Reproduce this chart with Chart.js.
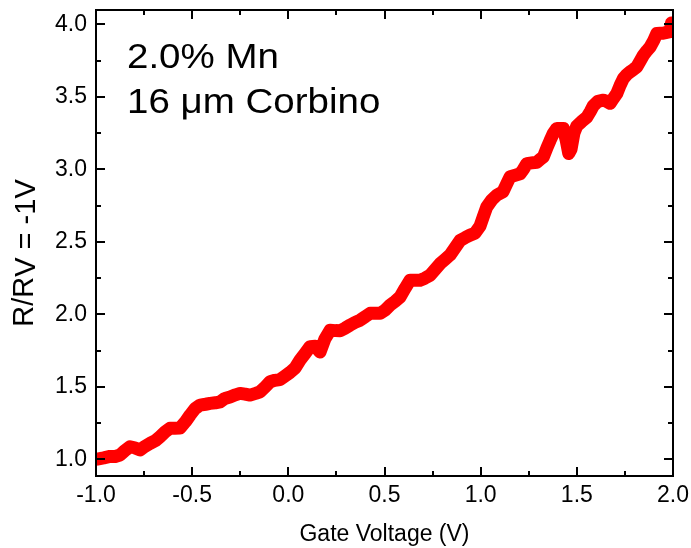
<!DOCTYPE html>
<html>
<head>
<meta charset="utf-8">
<script src="https://cdn.jsdelivr.net/npm/chart.js@4/dist/chart.umd.min.js"></script>
<style>
  html, body { margin: 0; padding: 0; background: #fff; }
  canvas { display: block; }
</style>
</head>
<body>
<canvas id="c" width="691" height="548"></canvas>
<script>
// ---- data ----
const gateVoltage = [
  -1.000, -0.960, -0.927, -0.900, -0.875, -0.850, -0.823, -0.800, -0.771, -0.745,
  -0.719, -0.690, -0.667, -0.640, -0.615, -0.590, -0.563, -0.535, -0.511, -0.485,
  -0.459, -0.430, -0.407, -0.380, -0.355, -0.330, -0.303, -0.275, -0.251, -0.225,
  -0.199, -0.170, -0.147, -0.120, -0.095, -0.070, -0.043, -0.017, 0.009, 0.035,
  0.061, 0.087, 0.113, 0.140, 0.165, 0.190, 0.217, 0.245, 0.269, 0.295,
  0.321, 0.347, 0.373, 0.400, 0.425, 0.450, 0.477, 0.503, 0.529, 0.555,
  0.581, 0.607, 0.633, 0.660, 0.685, 0.710, 0.737, 0.763, 0.789, 0.815,
  0.841, 0.867, 0.893, 0.920, 0.945, 0.970, 0.997, 1.015, 1.032, 1.058,
  1.084, 1.116, 1.135, 1.153, 1.180, 1.205, 1.222, 1.240, 1.265, 1.292,
  1.310, 1.326, 1.345, 1.361, 1.378, 1.396, 1.413, 1.430, 1.445, 1.458,
  1.470, 1.485, 1.500, 1.525, 1.552, 1.570, 1.586, 1.610, 1.638, 1.655,
  1.673, 1.690, 1.708, 1.725, 1.742, 1.760, 1.777, 1.795, 1.812, 1.830,
  1.846, 1.865, 1.881, 1.900, 1.916, 1.935, 1.950, 1.968, 1.985, 1.992, 2.000
];
const resistanceRatio = [
  1.00, 1.01, 1.02, 1.02, 1.03, 1.06, 1.087, 1.08, 1.065, 1.09,
  1.11, 1.13, 1.156, 1.19, 1.214, 1.215, 1.216, 1.26, 1.305, 1.35,
  1.374, 1.38, 1.386, 1.39, 1.397, 1.42, 1.43, 1.445, 1.455, 1.45,
  1.443, 1.455, 1.466, 1.50, 1.535, 1.545, 1.55, 1.575, 1.60, 1.63,
  1.685, 1.73, 1.777, 1.78, 1.74, 1.83, 1.89, 1.888, 1.887, 1.905,
  1.926, 1.945, 1.96, 1.985, 2.007, 2.007, 2.007, 2.03, 2.064, 2.09,
  2.12, 2.18, 2.236, 2.236, 2.236, 2.25, 2.27, 2.31, 2.35, 2.38,
  2.41, 2.46, 2.51, 2.53, 2.547, 2.56, 2.61, 2.68, 2.742, 2.79,
  2.823, 2.846, 2.90, 2.95, 2.96, 2.97, 3.00, 3.04, 3.045, 3.05,
  3.07, 3.087, 3.15, 3.20, 3.25, 3.283, 3.283, 3.283, 3.20, 3.11,
  3.14, 3.25, 3.30, 3.33, 3.36, 3.40, 3.44, 3.47, 3.478, 3.47,
  3.456, 3.49, 3.524, 3.58, 3.627, 3.655, 3.673, 3.69, 3.708, 3.75,
  3.788, 3.82, 3.845, 3.89, 3.938, 3.94, 3.94, 3.945, 3.95, 4.01, 3.99
];
const xTicks = [-1.0, -0.5, 0.0, 0.5, 1.0, 1.5, 2.0];
const yTicks = [1.0, 1.5, 2.0, 2.5, 3.0, 3.5, 4.0];
const xMinorTicks = [-0.75, -0.25, 0.25, 0.75, 1.25, 1.75];
const yMinorTicks = [1.25, 1.75, 2.25, 2.75, 3.25, 3.75];
const xTitle = 'Gate Voltage (V)';
const yTitleMain = 'R/R';
const yTitleSub = 'V = -1V';
const noteLines = ['2.0% Mn', '16 \u03BCm Corbino'];

const FONT = '"Liberation Sans", Arial, Helvetica, sans-serif';

const points = gateVoltage.map((v, i) => ({ x: v, y: resistanceRatio[i] }));

const framePlugin = {
  id: 'frameAndNotes',
  afterDatasetsDraw(chart) {
    const { ctx, chartArea: { left, right, top, bottom }, scales: { x, y } } = chart;
    ctx.save();
    ctx.strokeStyle = '#000';
    ctx.lineWidth = 2;
    ctx.lineCap = 'butt';
    ctx.strokeRect(left, top, right - left, bottom - top);
    const major = 9, minor = 5;
    ctx.beginPath();
    const xt = (vals, len) => vals.forEach(v => {
      const px = Math.round(x.getPixelForValue(v));
      ctx.moveTo(px, bottom); ctx.lineTo(px, bottom - len);
      ctx.moveTo(px, top); ctx.lineTo(px, top + len);
    });
    const yt = (vals, len) => vals.forEach(v => {
      const py = Math.round(y.getPixelForValue(v));
      ctx.moveTo(left, py); ctx.lineTo(left + len, py);
      ctx.moveTo(right, py); ctx.lineTo(right - len, py);
    });
    xt(xTicks, major); xt(xMinorTicks, minor);
    yt(yTicks, major); yt(yMinorTicks, minor);
    ctx.stroke();
    ctx.restore();
  },
  afterDraw(chart) {
    const { ctx } = chart;
    ctx.save();
    ctx.fillStyle = '#000';
    ctx.font = '35px ' + FONT;
    ctx.textAlign = 'left';
    ctx.textBaseline = 'alphabetic';
    [[noteLines[0], 68], [noteLines[1], 113]].forEach(([t, by]) => {
      ctx.save();
      ctx.translate(127, by);
      ctx.scale(1.1, 1);
      ctx.fillText(t, 0, 0);
      ctx.restore();
    });
    ctx.font = '29px ' + FONT;
    const wMain = ctx.measureText(yTitleMain).width;
    const wSub = ctx.measureText(yTitleSub).width;
    const total = wMain + wSub;
    const cy = 253;
    ctx.translate(33, cy + total / 2);
    ctx.rotate(-Math.PI / 2);
    ctx.fillText(yTitleMain, 0, 0);
    ctx.fillText(yTitleSub, wMain, 2);
    ctx.restore();
  }
};

new Chart(document.getElementById('c'), {
  type: 'line',
  data: {
    datasets: [{
      data: points,
      borderColor: '#ff0000',
      backgroundColor: '#ff0000',
      borderWidth: 13,
      pointRadius: 0,
      tension: 0,
      fill: false,
      clip: 0,
      borderJoinStyle: 'round',
      borderCapStyle: 'butt'
    }]
  },
  options: {
    responsive: false,
    animation: false,
    devicePixelRatio: 1,
    layout: { padding: { top: 10, right: 18, left: 0, bottom: 0 } },
    plugins: { legend: { display: false }, tooltip: { enabled: false } },
    scales: {
      x: {
        type: 'linear',
        position: 'bottom',
        min: -1.0,
        max: 2.0,
        afterBuildTicks: s => { s.ticks = xTicks.map(v => ({ value: v })); },
        afterFit: s => { s.height = 72; s.paddingLeft = 0; s.paddingRight = 0; },
        grid: { display: false, drawTicks: false, tickLength: 0 },
        border: { display: false },
        ticks: {
          color: '#000',
          font: { family: FONT, size: 23 },
          padding: 6,
          maxRotation: 0,
          autoSkip: false,
          callback: v => Number(v).toFixed(1)
        },
        title: {
          display: true,
          text: xTitle,
          color: '#000',
          font: { family: FONT, size: 23 },
          padding: { top: 0, bottom: 0 }
        }
      },
      y: {
        type: 'linear',
        position: 'left',
        min: 0.885,
        max: 4.1,
        afterBuildTicks: s => { s.ticks = yTicks.map(v => ({ value: v })); },
        afterFit: s => { s.width = 96; s.paddingTop = 0; s.paddingBottom = 0; },
        grid: { display: false, drawTicks: false, tickLength: 0 },
        border: { display: false },
        ticks: {
          color: '#000',
          font: { family: FONT, size: 23 },
          padding: 9,
          autoSkip: false,
          callback: v => Number(v).toFixed(1)
        },
        title: { display: false }
      }
    }
  },
  plugins: [framePlugin]
});
</script>
</body>
</html>
